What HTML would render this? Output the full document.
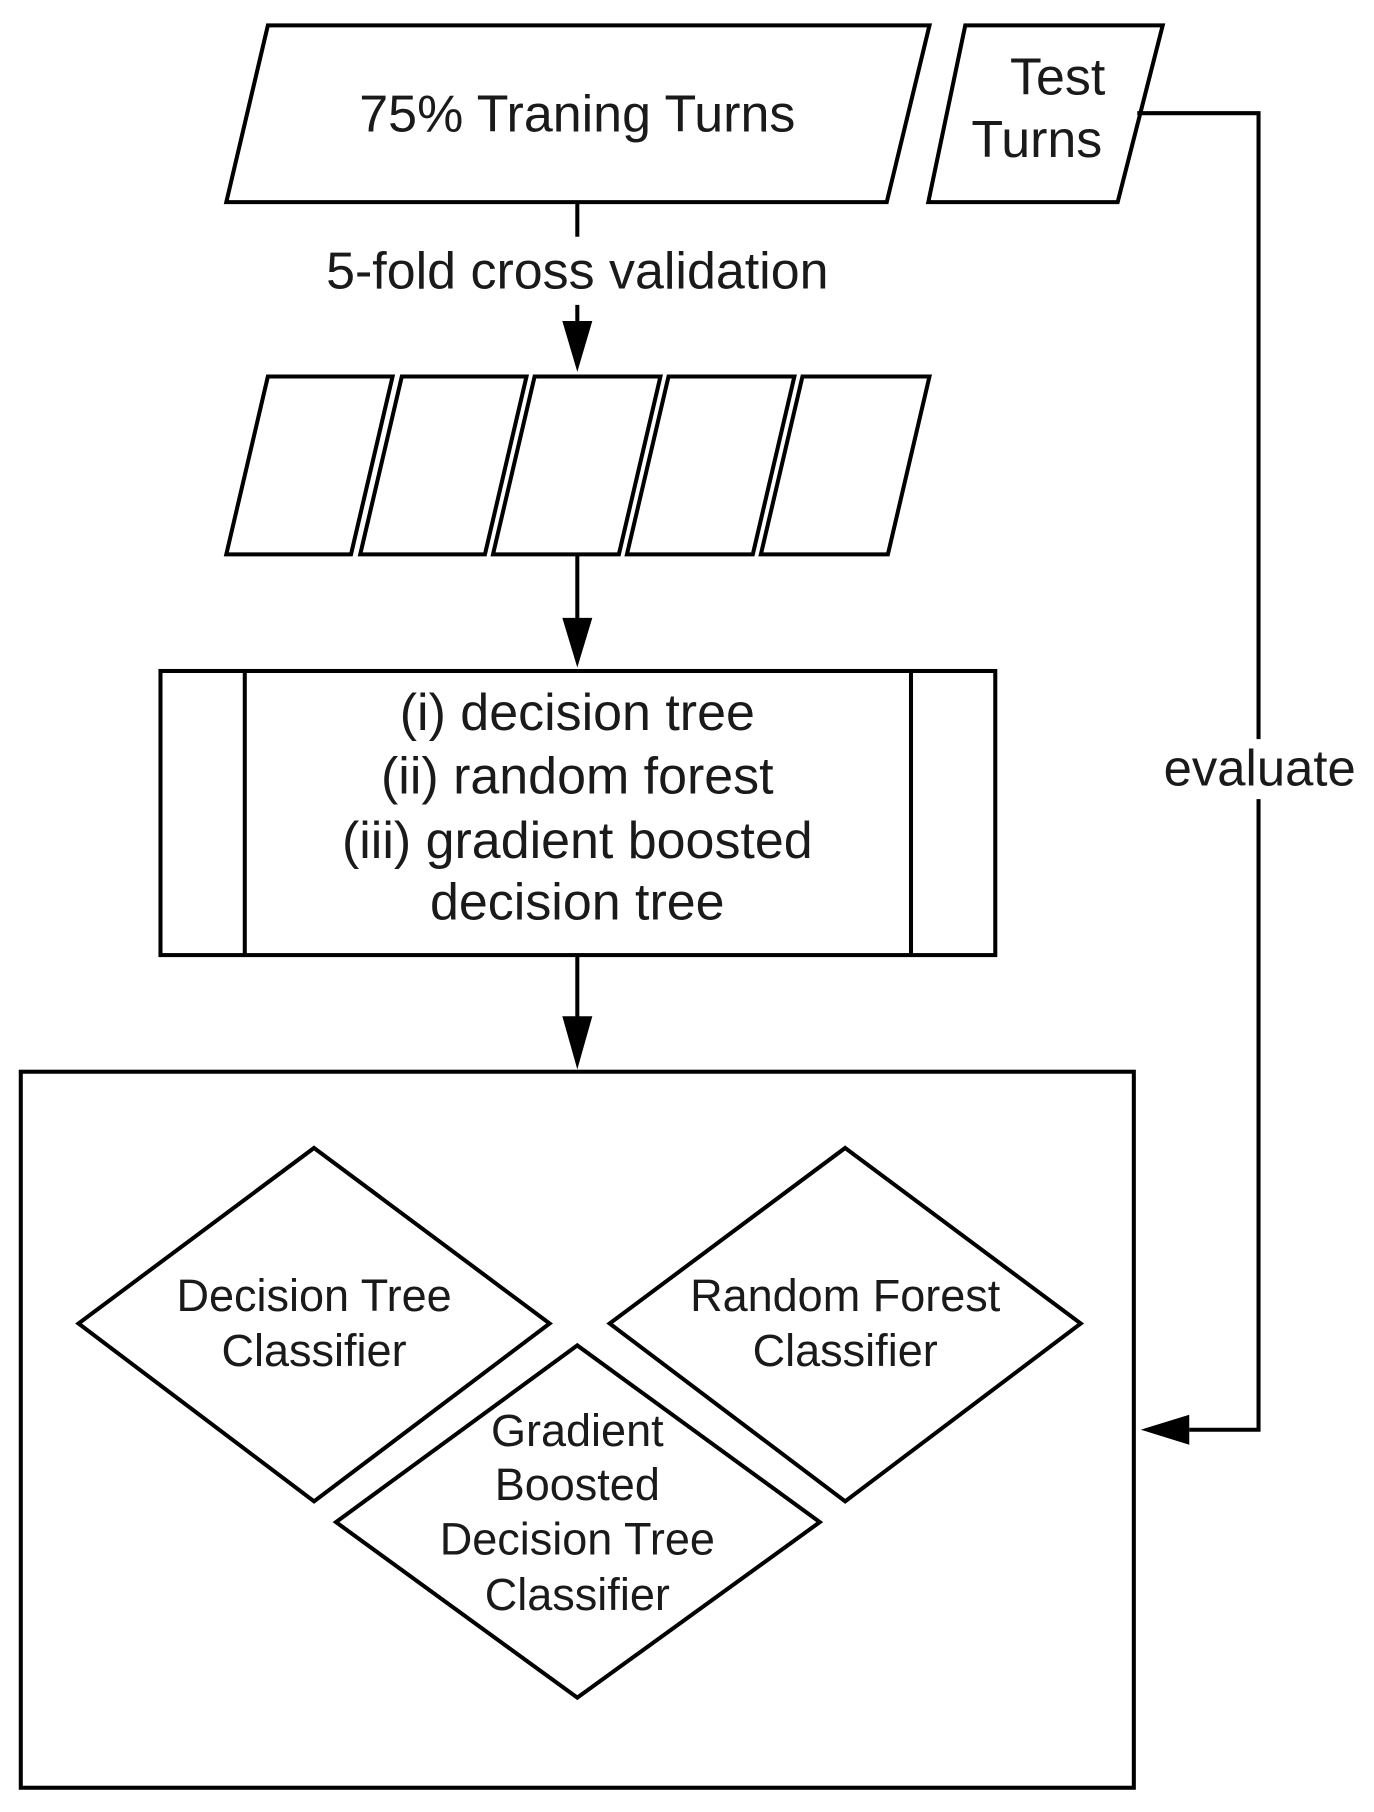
<!DOCTYPE html>
<html><head><meta charset="utf-8"><style>
html,body{margin:0;padding:0;background:#fff;width:1374px;height:1812px;overflow:hidden}
svg{display:block}
text{font-family:"Liberation Sans",sans-serif;fill:#1a1a1a;text-anchor:middle}
</style></head><body>
<svg width="1374" height="1812" viewBox="0 0 1190 1569" preserveAspectRatio="none">
<g fill="none" stroke="#000" stroke-width="3.5">
<polygon points="232,22 805,22 768,175 196,175"/>
<polygon points="836,22 1007,22 968,175 804,175"/>
<polyline points="985,98 1090,98 1090,640"/>
<polyline points="1090,692 1090,1238 1030,1238"/>
<line x1="500" y1="175" x2="500" y2="205"/>
<line x1="500" y1="264" x2="500" y2="280"/>
<polygon points="232,326 340,326 304,480 196,480"/>
<polygon points="348,326 456,326 420,480 312,480"/>
<polygon points="463,326 572,326 536,480 427,480"/>
<polygon points="579,326 688,326 652,480 543,480"/>
<polygon points="695,326 805,326 769,480 659,480"/>
<line x1="500" y1="480" x2="500" y2="537"/>
<rect x="139" y="581" width="723" height="246"/>
<line x1="212" y1="581" x2="212" y2="827"/>
<line x1="789" y1="581" x2="789" y2="827"/>
<line x1="500" y1="827" x2="500" y2="882"/>
<rect x="18" y="928" width="964" height="620"/>
<polygon points="272,994 476,1146 272,1300 68,1146"/>
<polygon points="732,994 936,1146 732,1300 528,1146"/>
<polygon points="500,1165 710,1318 500,1470 291,1318"/>
</g>
<g fill="#000">
<polygon points="487,278 513,278 500,322"/>
<polygon points="487,535 513,535 500,578"/>
<polygon points="487,880 513,880 500,926"/>
<polygon points="1030,1225 1030,1251 988,1238"/>
</g>
<g font-size="45">
<text x="500" y="114">75% Traning Turns</text>
<text x="916" y="82">Test</text>
<text x="898" y="136">Turns</text>
<text x="500" y="250">5-fold cross validation</text>
<text x="1091" y="680" font-size="44">evaluate</text>
<text x="500" y="632">(i) decision tree</text>
<text x="500" y="687">(ii) random forest</text>
<text x="500" y="743">(iii) gradient boosted</text>
<text x="500" y="796">decision tree</text>
</g>
<g font-size="39">
<text x="272" y="1135">Decision Tree</text>
<text x="272" y="1183">Classifier</text>
<text x="732" y="1135">Random Forest</text>
<text x="732" y="1183">Classifier</text>
<text x="500" y="1252">Gradient</text>
<text x="500" y="1299">Boosted</text>
<text x="500" y="1346">Decision Tree</text>
<text x="500" y="1394">Classifier</text>
</g>
</svg>
</body></html>
